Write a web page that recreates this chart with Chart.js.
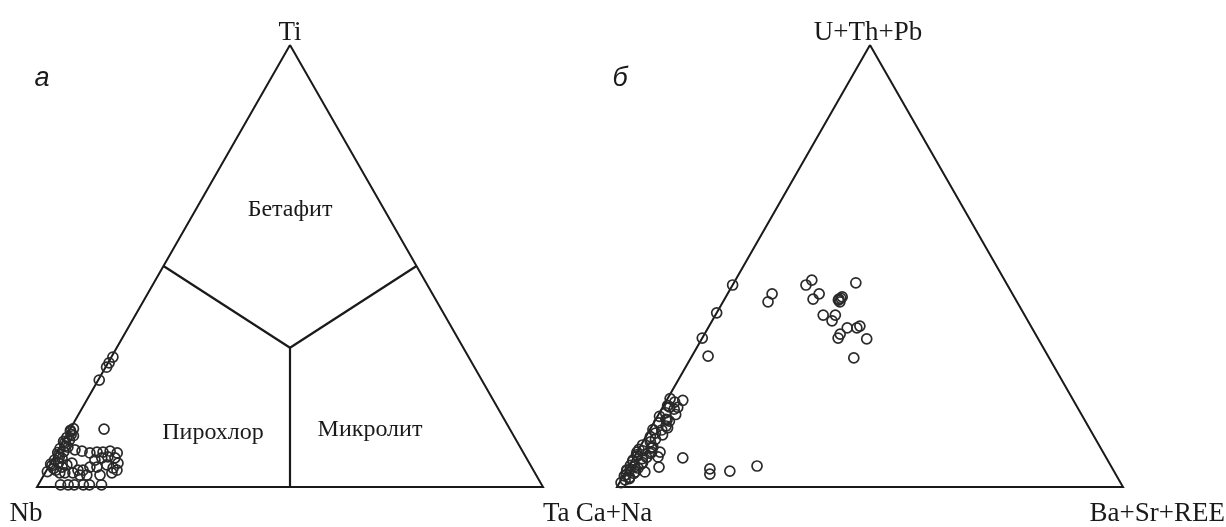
<!DOCTYPE html>
<html>
<head>
<meta charset="utf-8">
<script src="https://cdn.jsdelivr.net/npm/chart.js@4"></script>
<style>
  html, body { margin: 0; padding: 0; background: #fff; }
  body { width: 1226px; height: 527px; position: relative; overflow: hidden; }
  .box { position: absolute; top: 0; height: 527px; }
  #boxA { left: 0; width: 613px; }
  #boxB { left: 560px; width: 666px; }
</style>
</head>
<body>
<div class="box" id="boxA"><canvas id="chartA"></canvas></div>
<div class="box" id="boxB"><canvas id="chartB"></canvas></div>
<script>
// ternary values in %: top apex / right apex (left apex = rest)
// a) Ti – Nb – Ta
const aTi = [29.4, 28.1, 27.1, 24.2,
  3.5, 4.2, 4.9, 5.5, 6.1, 6.8, 7.4, 8.0, 8.7, 9.3, 10.0, 10.6, 11.2, 11.9, 12.5, 13.2,
  3.8, 5.2, 6.5, 7.8, 9.0, 10.3, 11.6, 12.8,
  13.1,
  0.5, 0.5, 0.5, 0.5, 0.5, 0.5,
  7.7, 7.9, 7.9, 8.1, 7.7, 6.1, 6.6, 6.8, 6.6, 5.4, 4.5, 4.5, 5.0, 4.3, 3.8, 3.8,
  5.4, 5.0, 4.5, 3.2, 3.2, 2.7, 2.7, 2.7, 3.2, 3.8, 3.2, 8.4, 8.1];
const aTa = [0.3, 0.2, 0.2, 0.2,
  0.3, 1.2, 0.5, 1.5, 0.4, 1.0, 0.6, 1.3, 0.2, 0.9, 0.5, 1.1, 0.3, 0.8, 0.4, 0.6,
  1.8, 0.1, 1.7, 0.2, 1.6, 0.1, 1.4, 0.2,
  6.7,
  4.4, 5.9, 7.1, 8.9, 10.1, 12.5,
  6.6, 7.9, 9.1, 10.4, 12.0, 8.4, 9.5, 10.6, 12.1, 13.3, 8.2, 9.6, 11.3, 12.9, 7.2, 6.2,
  4.2, 3.4, 2.7, 3.9, 5.5, 7.1, 8.5, 11.1, 13.2, 13.9, 2.9, 3.3, 4.85];

// b) U+Th+Pb – Ca+Na – Ba+Sr+REE
const bUThPb = [45.7, 39.4, 33.7, 29.6, 43.7, 41.9, 45.7, 46.8, 43.7, 42.5, 38.9, 38.9, 37.6,
  42.3, 43.0, 41.9, 42.5, 42.7, 46.2, 36.0, 36.0, 36.4, 34.6, 33.7, 33.5, 29.2,
  6.6, 4.5, 4.1, 2.9, 3.6, 4.75, 18.1, 15.2, 12.9, 7.9, 9.05, 7.9, 6.8, 3.4, 3.85,
  20.0, 19.2, 18.4, 17.6, 16.8, 16.0, 15.3, 14.5, 13.8, 13.0, 12.2, 11.4, 10.8,
  19.6, 18.0, 16.4, 14.9, 13.4, 11.8,
  10.2, 9.5, 8.8, 8.2, 7.6, 7.0, 6.4, 5.8, 5.2, 4.6, 4.0, 3.4, 2.8, 2.2, 1.6, 1.0,
  9.0, 7.9, 6.7, 5.5, 4.3, 3.1, 1.9, 8.5, 7.3, 6.1, 4.9, 3.7, 2.5];
const bBaSrREE = [0, 0, 0, 3.2, 8.8, 8.9, 14.5, 15.1, 18.1, 17.5, 21.3, 23.7, 23.7,
  22.6, 23.0, 23.1, 22.6, 22.9, 24.1, 27.5, 29.4, 29.8, 26.8, 26.85, 32.6, 32.2,
  9.7, 6.05, 16.3, 16.9, 20.5, 25.3, 1.4, 2.3, 2.4, 0, 2.4, 4.55, 4.7, 3.8, 0,
  0.5, 1.8, 0.8, 2.5, 1.2, 0.4, 2.0, 1.0, 2.8, 0.6, 1.5, 0.9, 2.2,
  3.2, 3.0, 3.4, 2.9, 3.3, 3.1,
  1.5, 0.3, 2.4, 1.0, 2.8, 0.5, 1.8, 0.2, 2.2, 1.2, 0.6, 1.9, 0.4, 1.4, 0.8, 0.3,
  2.6, 2.9, 2.5, 2.3, 2.0, 1.8, 1.5, 0.1, 0.2, 0.1, 0.2, 0.1, 0.2];

// classification boundaries (Ti, Ta) for plot a
const bndLeft = [[50, 0], [31.5, 34.25]];
const bndRight = [[50, 50], [31.5, 34.25]];
const bndBase = [[0, 50], [31.5, 34.25]];

const outline = [[100, 0], [0, 0], [0, 100], [100, 0]];

// ternary -> cartesian (x along base, y = top component)
function tern(top, right) { return { x: right + top / 2, y: top }; }
function pts(tops, rights) { return tops.map((t, i) => tern(t, rights[i])); }
function path(arr) { return arr.map(p => tern(p[0], p[1])); }

const PX_X = 5.06, PX_Y = 4.42, BASE_Y = 487;

const lineDs = (data, w) => ({
  type: 'line', data: data, showLine: true, borderColor: '#1a1a1a',
  borderWidth: w, pointRadius: 0, fill: false, tension: 0
});
const pointDs = (data) => ({
  type: 'scatter', data: data, showLine: false, pointStyle: 'circle',
  pointRadius: 5, borderWidth: 1.7, borderColor: '#2a2a2a',
  backgroundColor: 'rgba(0,0,0,0)'
});

function labelPlugin(labels) {
  return {
    id: 'labels',
    afterDraw(chart) {
      const c = chart.ctx;
      c.save();
      c.fillStyle = '#1a1a1a';
      labels.forEach(l => {
        c.font = l.font;
        c.textAlign = l.align || 'center';
        c.textBaseline = l.base || 'alphabetic';
        c.fillText(l.text, l.x, l.y);
      });
      c.restore();
    }
  };
}

function makeChart(id, w, baseLeftPx, datasets, labels) {
  const xmin = -baseLeftPx / PX_X, xmax = (w - baseLeftPx) / PX_X;
  const ymin = -(527 - BASE_Y) / PX_Y, ymax = BASE_Y / PX_Y;
  return new Chart(document.getElementById(id), {
    type: 'scatter',
    data: { datasets: datasets },
    options: {
      responsive: true, maintainAspectRatio: false, animation: false,
      layout: { padding: 0, autoPadding: false },
      plugins: { legend: { display: false }, tooltip: { enabled: false } },
      scales: {
        x: { type: 'linear', min: xmin, max: xmax, display: false },
        y: { type: 'linear', min: ymin, max: ymax, display: false }
      }
    },
    plugins: [labelPlugin(labels)]
  });
}

const serif = '"Liberation Serif", "Times New Roman", serif';
const sansI = 'italic 27px "Liberation Sans", Arial, sans-serif';

makeChart('chartA', 613, 37, [
  pointDs(pts(aTi, aTa)),
  lineDs(path(outline), 2),
  lineDs(path(bndLeft), 2.2),
  lineDs(path(bndRight), 2.2),
  lineDs(path(bndBase), 2.2)
], [
  { text: 'Ti', x: 290, y: 40, font: '27px ' + serif },
  { text: 'Nb', x: 26, y: 521, font: '27px ' + serif },
  { text: 'Ta', x: 543, y: 521, font: '27px ' + serif, align: 'left' },
  { text: 'Бетафит', x: 290, y: 210, font: '24px ' + serif, base: 'middle' },
  { text: 'Пирохлор', x: 213, y: 433, font: '24px ' + serif, base: 'middle' },
  { text: 'Микролит', x: 370, y: 430, font: '24px ' + serif, base: 'middle' },
  { text: 'а', x: 42, y: 78, font: sansI, base: 'middle' }
]);

makeChart('chartB', 666, 57, [
  pointDs(pts(bUThPb, bBaSrREE)),
  lineDs(path(outline), 2)
], [
  { text: 'U+Th+Pb', x: 308, y: 40, font: '27px ' + serif },
  { text: 'Ca+Na', x: 54, y: 521, font: '27px ' + serif },
  { text: 'Ba+Sr+REE', x: 665, y: 521, font: '27px ' + serif, align: 'right' },
  { text: 'б', x: 60, y: 78, font: sansI, base: 'middle' }
]);
</script>
</body>
</html>
